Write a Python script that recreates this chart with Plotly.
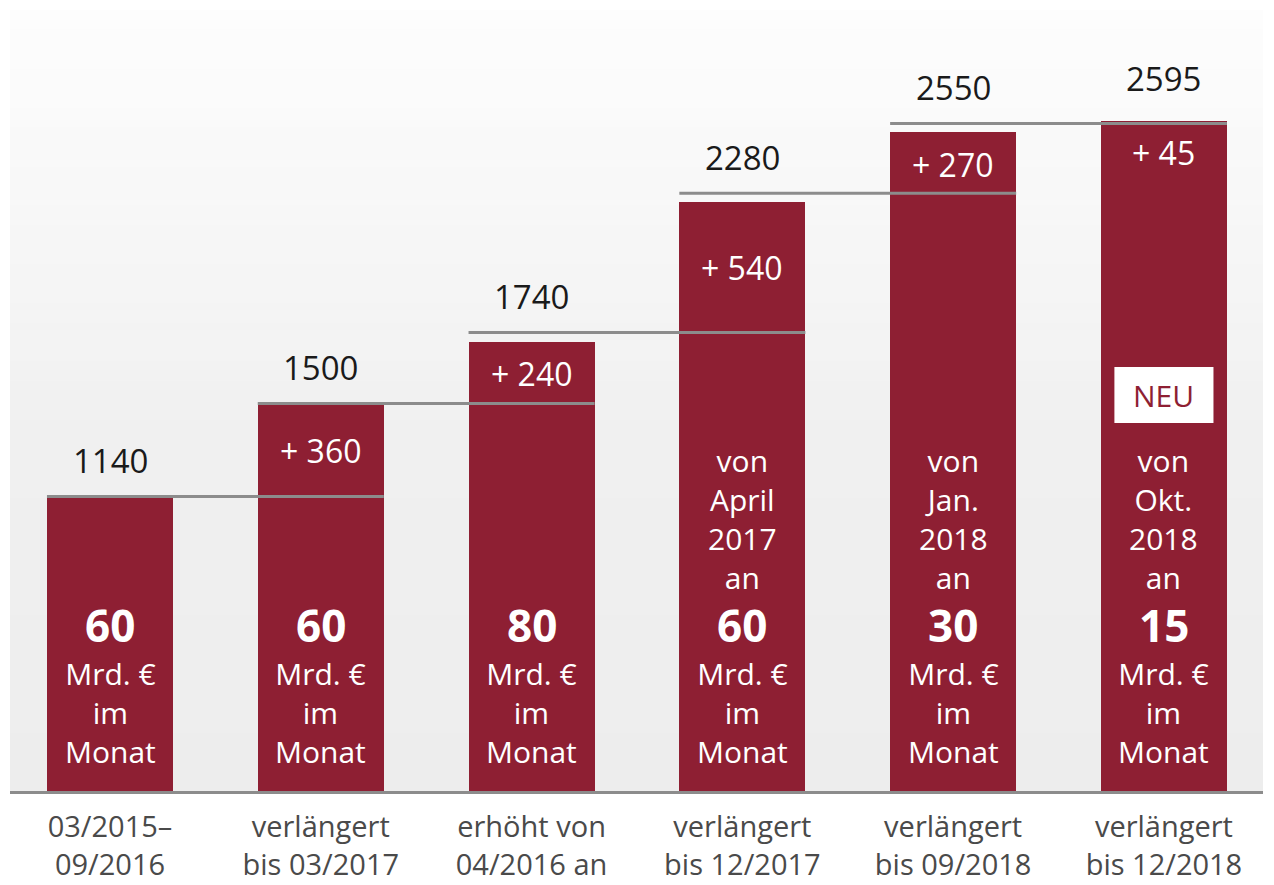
import plotly.graph_objects as go

# ---------------- data ----------------
categories = ["03/2015–<br>09/2016", "verlängert<br>bis 03/2017", "erhöht von<br>04/2016 an",
              "verlängert<br>bis 12/2017", "verlängert<br>bis 09/2018", "verlängert<br>bis 12/2018"]
totals = [1140, 1500, 1740, 2280, 2550, 2595]          # Mrd. € cumulative
increments = [None, 360, 240, 540, 270, 45]
monthly = [60, 60, 80, 60, 30, 15]                     # Mrd. € per month
start_note = [None, None, None,
              ["von", "April", "2017", "an"],
              ["von", "Jan.", "2018", "an"],
              ["von", "Okt.", "2018", "an"]]
is_new = [False, False, False, False, False, True]
unit_lines = ["Mrd. €", "im", "Monat"]

# ---------------- style ----------------
W, H = 1258, 877
ML, MR, MT, MB = 2, 3, 2, 94
PLOT_H = H - MT - MB
YMAX = 3024
PX = PLOT_H / YMAX                      # pixels per unit
RED = "#8e1f33"
GREY_LINE = "#8c8c8c"
FONT = "Open Sans"
BAR_W = 0.598
X_MIN, X_MAX = -0.4744, 5.470
LINE_LIFT = [0, 0, 9, 9, 9]             # pixel lift of connector lines
LABEL_LIFT = [36, 36, 45, 45, 45, 42]   # pixel lift of total labels

x = list(range(len(totals)))

fig = go.Figure()
fig.add_trace(go.Bar(x=x, y=totals, width=BAR_W, marker=dict(color=RED, line=dict(width=0)),
                     hoverinfo="skip", showlegend=False))

shapes = []
# background gradient bands (paper coords)
n_bands = 40
top_c, mid_c, bot_c = 253, 240, 237
for i in range(n_bands):
    f = i / (n_bands - 1)
    if f < 0.55:
        c = top_c + (mid_c - top_c) * (f / 0.55)
    else:
        c = mid_c + (bot_c - mid_c) * ((f - 0.55) / 0.45)
    c = int(round(c))
    y1 = 1 - i / n_bands
    y0 = 1 - (i + 1) / n_bands
    shapes.append(dict(type="rect", xref="paper", yref="paper", x0=0, x1=1, y0=y0 - 0.001, y1=y1,
                       fillcolor=f"rgb({c},{c},{c})", line=dict(width=0), layer="below"))

# connector lines: from bar i left edge to bar i+1 right edge at level of bar i
for i in range(len(totals) - 1):
    shapes.append(dict(type="line", xref="x", yref="y", ysizemode="pixel", yanchor=totals[i],
                       x0=x[i] - BAR_W / 2, x1=x[i + 1] + BAR_W / 2,
                       y0=LINE_LIFT[i], y1=LINE_LIFT[i],
                       line=dict(color=GREY_LINE, width=3), layer="above"))

annotations = []
for i, v in enumerate(totals):
    # total above bar
    annotations.append(dict(x=x[i], y=v, xref="x", yref="y", text=str(v), showarrow=False,
                            yanchor="middle", yshift=LABEL_LIFT[i],
                            font=dict(family=FONT, size=33, color="#1a1a1a")))
    # increment inside bar
    if increments[i] is not None:
        gap = increments[i] * PX - LINE_LIFT[i - 1]
        off = max(32, gap / 2)
        annotations.append(dict(x=x[i], y=v, xref="x", yref="y", text=f"+ {increments[i]}",
                                showarrow=False, yanchor="middle", yshift=-off,
                                font=dict(family=FONT, size=32, color="white")))
    # bottom block
    annotations.append(dict(x=x[i], y=0, xref="x", yref="y", text=f"<b>{monthly[i]}</b>",
                            showarrow=False, yanchor="middle", yshift=166,
                            font=dict(family=FONT, size=44, color="white")))
    annotations.append(dict(x=x[i], y=0, xref="x", yref="y", text="<br>".join(unit_lines),
                            showarrow=False, yanchor="middle", yshift=79,
                            font=dict(family=FONT, size=30, color="white")))
    if start_note[i]:
        annotations.append(dict(x=x[i], y=0, xref="x", yref="y", text="<br>".join(start_note[i]),
                                showarrow=False, yanchor="middle", yshift=272,
                                font=dict(family=FONT, size=30, color="white")))
    if is_new[i]:
        shapes.append(dict(type="rect", xref="x", yref="y", ysizemode="pixel", yanchor=0,
                           x0=x[i] - 0.235, x1=x[i] + 0.235, y0=368, y1=424,
                           fillcolor="white", line=dict(width=0), layer="above"))
        annotations.append(dict(x=x[i], y=0, xref="x", yref="y", text="NEU", showarrow=False,
                                yanchor="middle", yshift=396,
                                font=dict(family=FONT, size=30, color=RED)))

fig.update_layout(
    width=W, height=H,
    margin=dict(l=ML, r=MR, t=MT, b=MB, autoexpand=False),
    paper_bgcolor="white", plot_bgcolor="rgb(237,237,237)",
    shapes=shapes, annotations=annotations,
    bargap=0,
    xaxis=dict(range=[X_MIN, X_MAX], tickvals=x, ticktext=categories, showgrid=False,
               zeroline=False, showline=True, linecolor=GREY_LINE, linewidth=3,
               ticks="outside", ticklen=8, tickcolor="rgba(0,0,0,0)", automargin=False,
               tickfont=dict(family=FONT, size=29, color="#4a4a4a"), fixedrange=True),
    yaxis=dict(range=[0, YMAX], showgrid=False, zeroline=False, showticklabels=False,
               showline=False, fixedrange=True, automargin=False),
)

fig.write_html("out.html")
